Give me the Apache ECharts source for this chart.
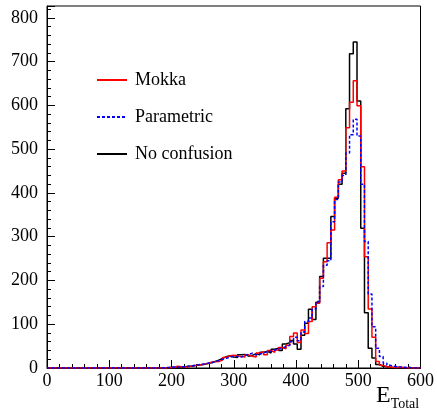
<!DOCTYPE html>
<html>
<head>
<meta charset="utf-8">
<script src="https://cdn.jsdelivr.net/npm/echarts@6/dist/echarts.min.js"></script>
<style>
  html, body { margin: 0; padding: 0; background: #fff; }
  #chart { width: 437px; height: 414px; }
</style>
</head>
<body>
<div id="chart"></div>
<script>
// Total energy histograms, 100 bins of width 6 between 0 and 600
const BIN_WIDTH = 6;
const X_MIN = 0;
const X_MAX = 600;
const xTicks = [0, 100, 200, 300, 400, 500, 600];
const yTicks = [0, 100, 200, 300, 400, 500, 600, 700, 800];

// bin contents, bin i covers [6i, 6i+6)
const mokka = [
  0,0,0,0,0,0,0,0,0,0, 0,0,0,0,0,0,0,0,0,0, 0,0,0,0,0,0,0,0,0,0,
  0,0,1,1,4,3,2,3,5,6, 7,9,10,13,14,15,18,24,28,29,
  28,26,25,30,27,25,34,37,30,40, 36,41,47,44,52,72,80,58,87,79,
  106,140,148,205,243,286,315,390,430,450, 549,607,656,599,460,254,135,70,15,6,
  3,2,1,1,1,1,0,0,0,0
];
const parametric = [
  0,0,0,0,0,0,0,0,0,0, 0,0,0,0,0,0,0,0,0,0, 0,0,0,0,0,0,0,0,0,0,
  0,1,1,2,2,3,3,4,5,7, 8,9,11,12,14,17,20,22,25,27,
  26,25,29,31,34,30,32,34,37,38, 41,44,45,49,52,60,70,62,82,106,
  114,135,152,186,235,245,334,385,425,440, 491,533,568,530,420,289,169,94,45,26,
  11,6,4,2,2,1,1,0,0,0
];
const noConfusion = [
  0,0,0,0,0,0,0,0,0,0, 0,0,0,0,0,0,0,0,0,0, 0,0,0,0,0,0,0,0,0,0,
  0,0,1,2,3,2,3,4,4,6, 7,8,10,12,15,18,22,26,28,25,
  24,30,31,27,29,33,30,36,38,34, 43,45,40,55,58,63,55,43,75,102,
  134,111,150,209,251,251,346,388,420,445, 592,718,745,610,319,126,45,23,8,4,
  3,2,1,2,1,0,1,0,0,0
];

const seriesNames = ['Mokka', 'Parametric', 'No confusion'];

// histogram outline: value of each bin held from its left edge, closed at X_MAX
function toSteps(vals) {
  const pts = vals.map((v, i) => [X_MIN + i * BIN_WIDTH, v]);
  pts.push([X_MAX, vals[vals.length - 1]]);
  return pts;
}

const serif = 'Liberation Serif, Times New Roman, serif';
const chart = echarts.init(document.getElementById('chart'), null, { renderer: 'canvas' });

chart.setOption({
  animation: false,
  backgroundColor: '#fff',
  grid: {
    left: 47, right: 15, top: 6, bottom: 46,
    show: true, borderColor: '#000', borderWidth: 1, backgroundColor: 'transparent'
  },
  legend: {
    orient: 'vertical',
    left: 91, top: 66,
    itemWidth: 30, itemHeight: 14, itemGap: 19,
    data: seriesNames,
    itemStyle: { opacity: 0 },
    textStyle: { fontFamily: serif, fontSize: 18, color: '#000', padding: [0, 0, 0, 3] }
  },
  xAxis: {
    type: 'value', min: X_MIN, max: X_MAX, interval: 100,
    axisLine: { show: true, lineStyle: { color: '#000', width: 1 } },
    axisTick: { show: true, inside: true, length: 8, lineStyle: { color: '#000' } },
    minorTick: { show: true, splitNumber: 5, length: 4, lineStyle: { color: '#000' } },
    splitLine: { show: false },
    axisLabel: {
      margin: 4, fontFamily: serif, fontSize: 18, color: '#000',
      formatter: v => (xTicks.includes(v) ? String(v) : '')
    }
  },
  yAxis: {
    type: 'value', min: 0, max: 827, interval: 100,
    axisLine: { show: true, lineStyle: { color: '#000', width: 1 } },
    axisTick: { show: true, inside: true, length: 8, lineStyle: { color: '#000' } },
    minorTick: { show: true, splitNumber: 5, length: 4, lineStyle: { color: '#000' } },
    splitLine: { show: false },
    axisLabel: {
      margin: 9, fontFamily: serif, fontSize: 18, color: '#000',
      formatter: v => (yTicks.includes(v) ? String(v) : '')
    }
  },
  graphic: [{
    type: 'text', left: 376, top: 384,
    style: {
      text: '{e|E}{s|Total}',
      rich: {
        e: { fontFamily: serif, fontSize: 24, fill: '#000' },
        s: { fontFamily: serif, fontSize: 14, fill: '#000', padding: [16, 0, 0, 0] }
      }
    }
  }],
  series: [
    {
      name: 'Mokka', type: 'line', step: 'end', symbol: 'none',
      data: toSteps(mokka), z: 3,
      lineStyle: { color: '#ff0000', width: 1.5 }, itemStyle: { color: '#ff0000' }
    },
    {
      name: 'Parametric', type: 'line', step: 'end', symbol: 'none',
      data: toSteps(parametric), z: 4,
      lineStyle: { color: '#0000ff', width: 1.5, type: [3, 2] }, itemStyle: { color: '#0000ff' }
    },
    {
      name: 'No confusion', type: 'line', step: 'end', symbol: 'none',
      data: toSteps(noConfusion), z: 2,
      lineStyle: { color: '#000', width: 1.5 }, itemStyle: { color: '#000' }
    }
  ]
});
</script>
</body>
</html>
